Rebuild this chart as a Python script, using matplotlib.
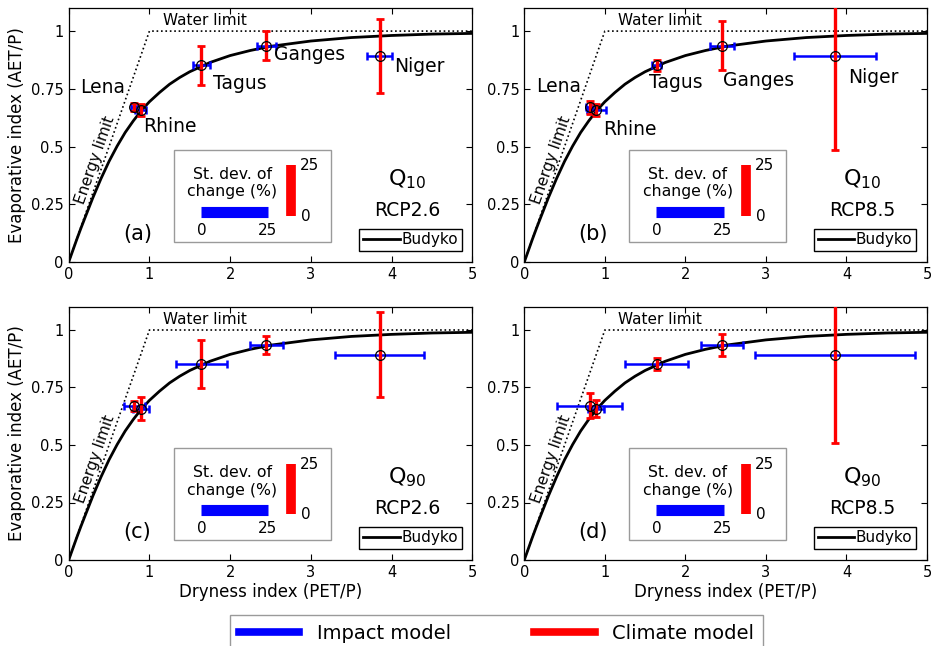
import numpy as np
import matplotlib
matplotlib.use("Agg")
import matplotlib.pyplot as plt
from matplotlib.lines import Line2D
from matplotlib.patches import Rectangle

plt.rcParams['font.family'] = ['DejaVu Sans']
plt.rcParams['mathtext.default'] = 'regular'

# Budyko curve
budyko_x = [0.0, 0.05, 0.1, 0.15, 0.2, 0.3, 0.4, 0.5, 0.6, 0.7, 0.8, 0.9, 1.0,
            1.125, 1.25, 1.375, 1.5, 1.75, 2.0, 2.25, 2.5, 3.0, 3.5, 4.0, 4.5, 5.0]
budyko_y = [0.0, 0.049, 0.098, 0.145, 0.190, 0.279, 0.361, 0.436, 0.502, 0.561,
            0.611, 0.656, 0.694, 0.734, 0.770, 0.799, 0.824, 0.864, 0.894, 0.916,
            0.934, 0.957, 0.972, 0.981, 0.987, 0.990]

basins = ['Lena', 'Rhine', 'Tagus', 'Ganges', 'Niger']
dryness = [0.81, 0.895, 1.645, 2.45, 3.855]
evap = [0.67, 0.658, 0.851, 0.936, 0.892]

panels = ['(a)', '(b)', '(c)', '(d)']
quantiles = ['10', '10', '90', '90']
scenarios = ['RCP2.6', 'RCP8.5', 'RCP2.6', 'RCP8.5']

# st. dev. of change, drawn as half widths (impact model -> x, climate model -> y)
impact_sd = [
    [0.04, 0.068, 0.11, 0.114, 0.155],
    [0.04, 0.12, 0.056, 0.149, 0.51],
    [0.13, 0.10, 0.31, 0.20, 0.55],
    [0.40, 0.10, 0.39, 0.26, 0.99],
]
climate_sd = [
    [0.018, 0.027, 0.085, 0.063, 0.162],
    [0.029, 0.026, 0.022, 0.106, 0.407],
    [0.023, 0.05, 0.105, 0.039, 0.185],
    [0.054, 0.038, 0.026, 0.048, 0.385],
]

# scale bars in the inset (25 % st. dev.)
scale_x_len = 0.84
scale_y_len = 0.22

# basin name positions for the top panels
label_pos = [
    [(0.42, 0.757), (1.25, 0.586), (2.12, 0.774), (2.99, 0.90), (4.35, 0.846)],
    [(0.42, 0.762), (1.31, 0.575), (1.88, 0.777), (2.91, 0.788), (4.33, 0.798)],
]

fig = plt.figure(figsize=(9.34, 6.46), dpi=100)

W, H = 934, 646
boxes = [(68.7, 8, 472.3, 262), (524.3, 8, 927, 262),
         (68.7, 307, 472.3, 560), (524.3, 307, 927, 560)]

for i in range(4):
    x0, y0, x1, y1 = boxes[i]
    ax = fig.add_axes([x0 / W, (H - y1) / H, (x1 - x0) / W, (y1 - y0) / H])

    # limits
    ax.plot([0, 1, 5], [0, 1, 1], ':', color='black', lw=1.2)
    ax.plot(budyko_x, budyko_y, '-', color='black', lw=2, label='Budyko')

    ax.errorbar(dryness, evap, xerr=impact_sd[i], fmt='none', ecolor='blue',
                elinewidth=1.8, capsize=3, capthick=1.8, zorder=3)
    ax.errorbar(dryness, evap, yerr=climate_sd[i], fmt='none', ecolor='red',
                elinewidth=2.4, capsize=3, capthick=2.0, zorder=4)
    ax.plot(dryness, evap, 'o', mfc='none', mec='black', ms=7, mew=0.9, zorder=5)

    ax.text(1.69, 1.045, 'Water limit', fontsize=11, ha='center', va='center')
    ax.text(0.33, 0.44, 'Energy limit', fontsize=11, ha='center', va='center',
            rotation=70.7)

    if i < 2:
        for name, (tx, ty) in zip(basins, label_pos[i]):
            ax.text(tx, ty, name, fontsize=13.5, ha='center', va='center')

    ax.text(0.85, 0.12, panels[i], fontsize=15, ha='center', va='center')
    ax.text(4.19, 0.36, 'Q$_{' + quantiles[i] + '}$', fontsize=16,
            ha='center', va='center')
    ax.text(4.19, 0.225, scenarios[i], fontsize=13.5, ha='center', va='center')

    # st. dev. inset
    ax.add_patch(Rectangle((1.30, 0.088), 1.95, 0.397, facecolor='white',
                           edgecolor='#9a9a9a', lw=1, zorder=2))
    ax.plot([1.635, 1.635 + scale_x_len], [0.218, 0.218], color='blue', lw=8,
            solid_capstyle='butt', zorder=3)
    ax.plot([2.754, 2.754], [0.199, 0.199 + scale_y_len], color='red', lw=7,
            solid_capstyle='butt', zorder=3)
    ax.text(2.03, 0.342, 'St. dev. of\nchange (%)', fontsize=11.3, ha='center',
            va='center', linespacing=1.2, zorder=3)
    ax.text(1.65, 0.136, '0', fontsize=11, ha='center', va='center', zorder=3)
    ax.text(2.46, 0.136, '25', fontsize=11, ha='center', va='center', zorder=3)
    ax.text(2.86, 0.416, '25', fontsize=11, ha='left', va='center', zorder=3)
    ax.text(2.88, 0.196, '0', fontsize=11, ha='left', va='center', zorder=3)

    ax.legend(loc='lower right', fontsize=11, frameon=True, fancybox=False,
              edgecolor='black', framealpha=1, borderpad=0.25,
              handlelength=2.4, handletextpad=0.1, borderaxespad=0.7)
    ax.get_legend().get_frame().set_linewidth(1)

    ax.set_xlim(0, 5)
    ax.set_ylim(0, 1.1)
    ax.set_xticks([0, 1, 2, 3, 4, 5])
    ax.set_yticks([0, 0.25, 0.5, 0.75, 1])
    ax.set_yticklabels(['0', '0.25', '0.5', '0.75', '1'])
    ax.tick_params(direction='in', top=True, right=True, labelsize=10.5,
                   length=4, width=0.8)
    for sp in ax.spines.values():
        sp.set_linewidth(0.9)
    if i % 2 == 0:
        ax.set_ylabel('Evaporative index (AET/P)', fontsize=12)
    if i >= 2:
        ax.set_xlabel('Dryness index (PET/P)', fontsize=12, labelpad=2)

handles = [Line2D([0], [0], color='blue', lw=5.5),
           Line2D([0], [0], color='red', lw=5.5)]
leg = fig.legend(handles, ['Impact model', 'Climate model'], ncol=2,
                 loc='upper left', bbox_to_anchor=(230 / W, (H - 615) / H),
                 fontsize=14, frameon=True, fancybox=False, edgecolor='#9a9a9a',
                 framealpha=1, handlelength=3.1, handletextpad=0.9,
                 columnspacing=4.3, borderpad=0.45, borderaxespad=0)

fig.savefig('out.png', dpi=100)
